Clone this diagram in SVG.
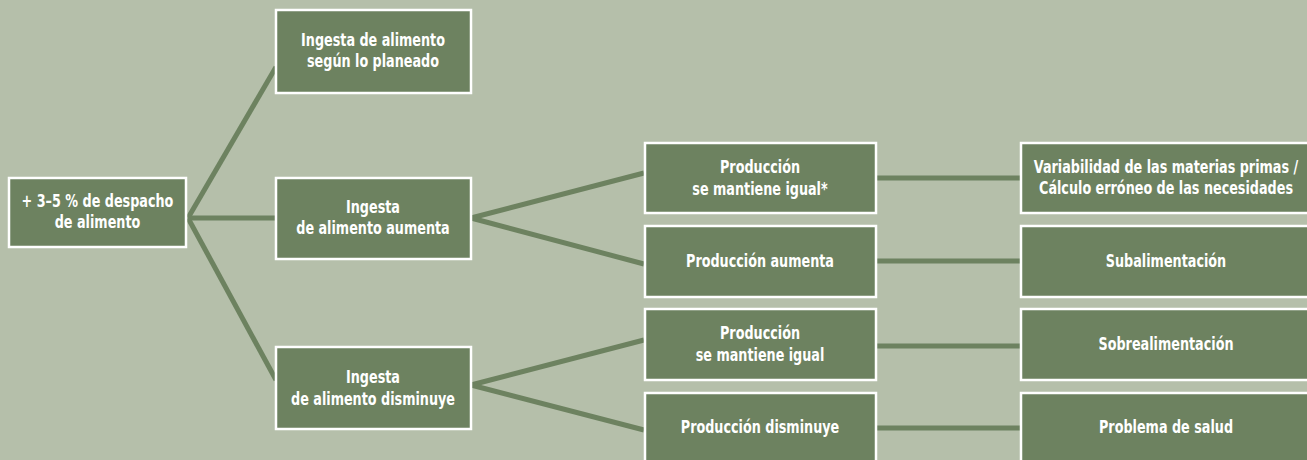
<svg xmlns="http://www.w3.org/2000/svg" width="1307" height="460" viewBox="0 0 1307 460">
<style>
.bg{fill:#b5bfaa}
.box{fill:#6d8260;stroke:#ffffff;stroke-width:2.5}
.con{stroke:#6d8260;stroke-width:5;fill:none;stroke-linecap:butt}
text{font-family:"DejaVu Sans Condensed","Liberation Sans Narrow","Liberation Sans",sans-serif;font-stretch:condensed;font-weight:bold;font-size:17px;fill:#ffffff;text-anchor:middle}
</style>
<rect class="bg" x="0" y="0" width="1307" height="460"/>
<g id="connectors">
<line class="con" x1="188" y1="218" x2="276" y2="67"/>
<line class="con" x1="188" y1="218" x2="276" y2="218"/>
<line class="con" x1="188" y1="218" x2="276" y2="380"/>
<line class="con" x1="471" y1="218" x2="644" y2="173"/>
<line class="con" x1="471" y1="218" x2="644" y2="264"/>
<line class="con" x1="471" y1="385" x2="644" y2="340"/>
<line class="con" x1="471" y1="385" x2="644" y2="430"/>
<line class="con" x1="876" y1="178" x2="1020" y2="178"/>
<line class="con" x1="876" y1="261" x2="1020" y2="261"/>
<line class="con" x1="876" y1="346" x2="1020" y2="346"/>
<line class="con" x1="876" y1="428" x2="1020" y2="428"/>
</g>
<g id="root">
<rect class="box" x="9" y="178" width="177" height="69"/>
<text transform="translate(97.5 207) scale(0.835 1)">+ 3–5 % de despacho</text>
<text transform="translate(97.5 228) scale(0.835 1)">de alimento</text>
</g>
<g id="planeado">
<rect class="box" x="276" y="10" width="195" height="83"/>
<text transform="translate(373 46) scale(0.835 1)">Ingesta de alimento</text>
<text transform="translate(373 67) scale(0.835 1)">según lo planeado</text>
</g>
<g id="aumenta">
<rect class="box" x="276" y="178" width="195" height="81"/>
<text transform="translate(373 213) scale(0.835 1)">Ingesta</text>
<text transform="translate(373 234) scale(0.835 1)">de alimento aumenta</text>
</g>
<g id="disminuye">
<rect class="box" x="276" y="347" width="195" height="82"/>
<text transform="translate(373 383) scale(0.835 1)">Ingesta</text>
<text transform="translate(373 405) scale(0.835 1)">de alimento disminuye</text>
</g>
<g id="prod-igual-ast">
<rect class="box" x="645" y="143" width="231" height="70"/>
<text transform="translate(760 173) scale(0.835 1)">Producción</text>
<text transform="translate(760 195) scale(0.835 1)">se mantiene igual*</text>
</g>
<g id="prod-aumenta">
<rect class="box" x="645" y="226" width="231" height="71"/>
<text transform="translate(760 267) scale(0.835 1)">Producción aumenta</text>
</g>
<g id="prod-igual">
<rect class="box" x="645" y="309" width="231" height="71"/>
<text transform="translate(760 339) scale(0.835 1)">Producción</text>
<text transform="translate(760 361) scale(0.835 1)">se mantiene igual</text>
</g>
<g id="prod-disminuye">
<rect class="box" x="645" y="393" width="231" height="72"/>
<text transform="translate(760 433) scale(0.835 1)">Producción disminuye</text>
</g>
<g id="variabilidad">
<rect class="box" x="1021" y="143" width="292" height="70"/>
<text transform="translate(1166 173) scale(0.835 1)">Variabilidad de las materias primas /</text>
<text transform="translate(1166 194) scale(0.835 1)">Cálculo erróneo de las necesidades</text>
</g>
<g id="subalimentacion">
<rect class="box" x="1021" y="226" width="292" height="71"/>
<text transform="translate(1166 267) scale(0.835 1)">Subalimentación</text>
</g>
<g id="sobrealimentacion">
<rect class="box" x="1021" y="309" width="292" height="71"/>
<text transform="translate(1166 350) scale(0.835 1)">Sobrealimentación</text>
</g>
<g id="salud">
<rect class="box" x="1021" y="393" width="292" height="72"/>
<text transform="translate(1166 433) scale(0.835 1)">Problema de salud</text>
</g>
</svg>
